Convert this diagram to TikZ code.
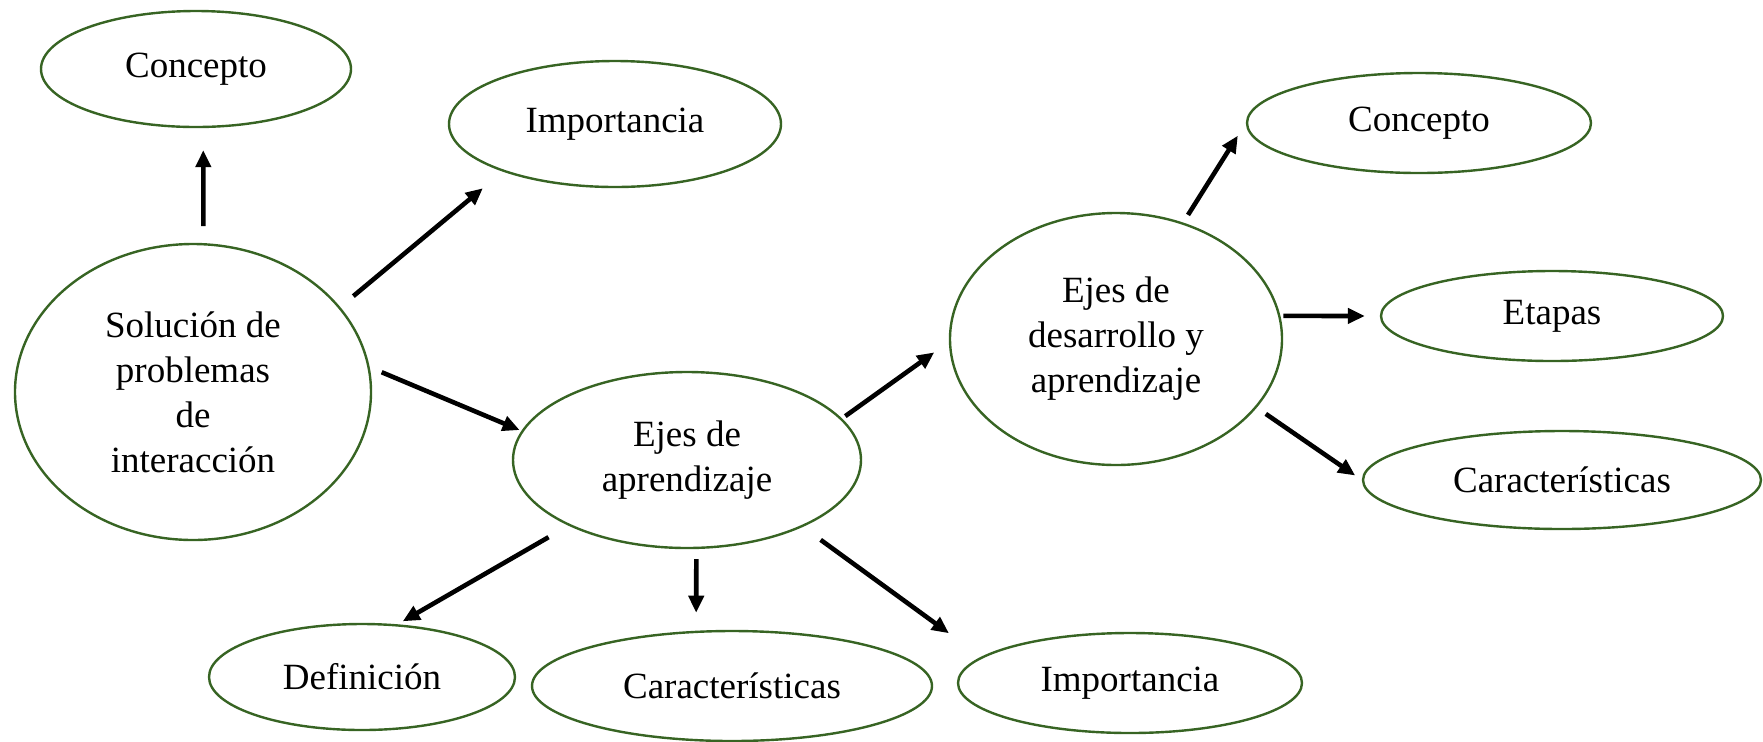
\documentclass[tikz,border=0pt]{standalone}
\usepackage{fontspec}
\setmainfont{Liberation Serif}
\usetikzlibrary{shapes.geometric,arrows.meta}
\definecolor{bordeverde}{RGB}{55,100,35}

\begin{document}
\begin{tikzpicture}[x=0.5pt,y=-0.5pt,
        idea/.style={ellipse, draw=bordeverde, line width=1.2pt, inner sep=0pt,
                     align=center, font=\fontsize{18.5}{22.5}\selectfont},
        flecha/.style={-{Triangle[length=8.5pt,width=7.5pt]}, line width=2.3pt}]
                    \useasboundingbox (0,0) rectangle (1763,741);
                    % mapa de la izquierda
                    \node[idea, minimum width=155pt, minimum height=58pt] (concepto) at (196,69) {Concepto};
                    \node[idea, minimum width=166pt, minimum height=63pt] (importancia) at (615,124) {Importancia};
                    \node[idea, minimum width=178pt, minimum height=148pt] (solucion) at (193,392) {Solución de\\problemas\\de\\interacción};
                    \node[idea, minimum width=174pt, minimum height=88pt] (ejesapr) at (687,460) {Ejes de\\aprendizaje};
                    % mapa de la derecha
                    \node[idea, minimum width=166pt, minimum height=126pt] (ejesdes) at (1116,339) {Ejes de\\desarrollo y\\aprendizaje};
                    \node[idea, minimum width=172pt, minimum height=50pt] (concepto2) at (1419,123) {Concepto};
                    \node[idea, minimum width=171pt, minimum height=45pt] (etapas) at (1552,316) {Etapas};
                    \node[idea, minimum width=199pt, minimum height=49pt] (caract2) at (1562,480) {Características};
                    % fila de abajo
                    \node[idea, minimum width=153pt, minimum height=53pt] (definicion) at (362,677) {Definición};
                    \node[idea, minimum width=200pt, minimum height=55pt] (caract) at (732,686) {Características};
                    \node[idea, minimum width=172pt, minimum height=50pt] (importancia2) at (1130,683) {Importancia};

                    \draw[flecha, shorten <=8.5pt, shorten >=11pt] (solucion.86) -- (concepto.277);
                    \draw[flecha, shorten <=8.5pt, shorten >=13pt] (solucion.30) -- (importancia.203);
                    \draw[flecha, shorten <=6.5pt, shorten >=1pt] (solucion.8) -- (ejesapr.170);
                    \draw[flecha, shorten <=2pt, shorten >=9pt] (ejesapr.15) -- (ejesdes.181);
                    \draw[flecha, shorten <=4.5pt, shorten >=7.5pt] (ejesdes.60) -- (concepto2.180);
                    \draw[flecha, shorten <=1.5pt, shorten >=7.5pt] (ejesdes.8) -- (etapas.180);
                    \draw[flecha, shorten <=5.5pt, shorten >=4pt] (ejesdes.-26) -- (caract2.180);
                    \draw[flecha, shorten <=11.5pt, shorten >=3pt] (ejesapr.209) -- (definicion.56);
                    \draw[flecha, shorten <=5pt, shorten >=9pt] (ejesapr.276) -- (caract.123);
                    \draw[flecha, shorten <=11pt, shorten >=20pt] (ejesapr.-30) -- (importancia2.170);
%                    \draw[flecha] (ejesdes) -- (caract);
                \end{tikzpicture}
\end{document}
